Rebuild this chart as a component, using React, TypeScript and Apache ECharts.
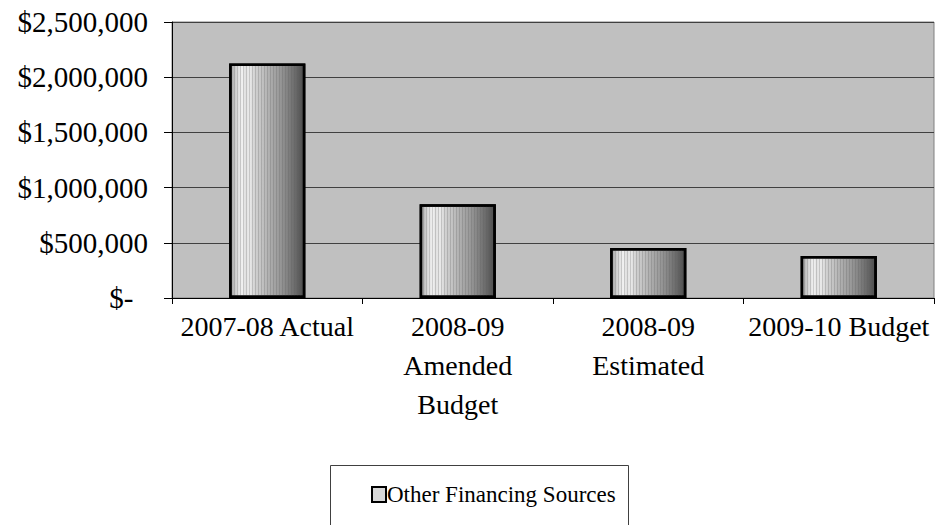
import React, { useEffect, useRef } from "react";
import * as echarts from "echarts";

const categories = ["2007-08 Actual", "2008-09\nAmended\nBudget", "2008-09\nEstimated", "2009-10 Budget"];
const seriesName = "Other Financing Sources";
const values = [2125000, 850000, 452000, 380000];
const yTicks = [0, 500000, 1000000, 1500000, 2000000, 2500000];

const FONT = "'Liberation Serif', 'Times New Roman', serif";

function barFill() {
  const stops = [
    { offset: 0, color: "#9a9a9a" },
    { offset: 0.06, color: "#c8c8c8" },
    { offset: 0.1, color: "#dcdcdc" },
    { offset: 0.16, color: "#f2f2f2" },
    { offset: 0.2, color: "#e0e0e0" },
    { offset: 0.26, color: "#eaeaea" },
    { offset: 0.34, color: "#cfcfcf" },
    { offset: 0.42, color: "#c4c4c4" },
    { offset: 0.5, color: "#b4b4b4" },
    { offset: 0.58, color: "#a6a6a6" },
    { offset: 0.66, color: "#9a9a9a" },
    { offset: 0.74, color: "#8a8a8a" },
    { offset: 0.82, color: "#787878" },
    { offset: 0.9, color: "#666666" },
    { offset: 1, color: "#4a4a4a" },
  ];
  return new echarts.graphic.LinearGradient(0, 0, 1, 0, stops);
}

function fmt(v: number) {
  if (v === 0) return "$-  ";
  return "$" + v.toLocaleString("en-US");
}

export default function App() {
  const ref = useRef<HTMLDivElement>(null);
  useEffect(() => {
    if (!ref.current) return;
    const chart = echarts.init(ref.current, null, { renderer: "svg" });
    chart.setOption({
      animation: false,
      backgroundColor: "#ffffff",
      textStyle: { fontFamily: FONT },
      grid: {
        left: 172,
        right: 14,
        top: 22,
        bottom: 227,
        show: true,
        backgroundColor: "#c0c0c0",
        borderColor: "#808080",
        borderWidth: 1,
        outerBoundsMode: "none",
        containLabel: false,
      },
      legend: {
        show: true,
        left: 366,
        top: 478,
        itemWidth: 14,
        itemHeight: 15,
        itemGap: 2,
        icon: "rect",
        itemStyle: { color: "#d8d8d8", borderColor: "#000", borderWidth: 2, decal: "none" },
        textStyle: { fontFamily: FONT, fontSize: 23, color: "#000", padding: [0, 0, 0, -4] },
        data: [seriesName],
        z: 10,
      },
      xAxis: {
        type: "category",
        data: categories,
        axisLine: { show: true, lineStyle: { color: "#000", width: 1 } },
        axisTick: { show: true, length: 6, lineStyle: { color: "#000" } },
        axisLabel: {
          interval: 0,
          margin: 9,
          fontFamily: FONT,
          fontSize: 28,
          color: "#000",
          lineHeight: 39,
          align: "center",
        },
      },
      yAxis: {
        type: "value",
        min: 0,
        max: 2500000,
        interval: 500000,
        axisLine: { show: true, lineStyle: { color: "#000", width: 1 } },
        axisTick: { show: true, inside: false, length: 8, lineStyle: { color: "#000" } },
        splitLine: { show: true, lineStyle: { color: "#404040", width: 1 } },
        axisLabel: {
          margin: 24,
          fontFamily: FONT,
          fontSize: 29,
          color: "#000",
          formatter: (v: number) => (yTicks.includes(v) ? fmt(v) : ""),
        },
      },
      graphic: [
        {
          type: "rect",
          left: 330,
          top: 465,
          shape: { width: 298, height: 80 },
          style: { fill: "#ffffff", stroke: "#404040", lineWidth: 1 },
          z: -1,
          silent: true,
        },
      ],
      series: [
        {
          name: seriesName,
          type: "bar",
          data: values,
          barWidth: "40%",
          itemStyle: {
            color: barFill(),
            borderColor: "#000",
            borderWidth: 2.5,
            decal: {
              symbol: "rect",
              symbolSize: 1,
              color: "rgba(90,90,90,0.25)",
              dashArrayX: [1, 2],
              dashArrayY: [4, 0],
              rotation: 0,
            },
          },
        },
      ],
    });
    return () => chart.dispose();
  }, []);
  return (
    <div
      ref={ref}
      style={{ position: "absolute", left: 0, top: 0, width: 948, height: 525 }}
    />
  );
}
